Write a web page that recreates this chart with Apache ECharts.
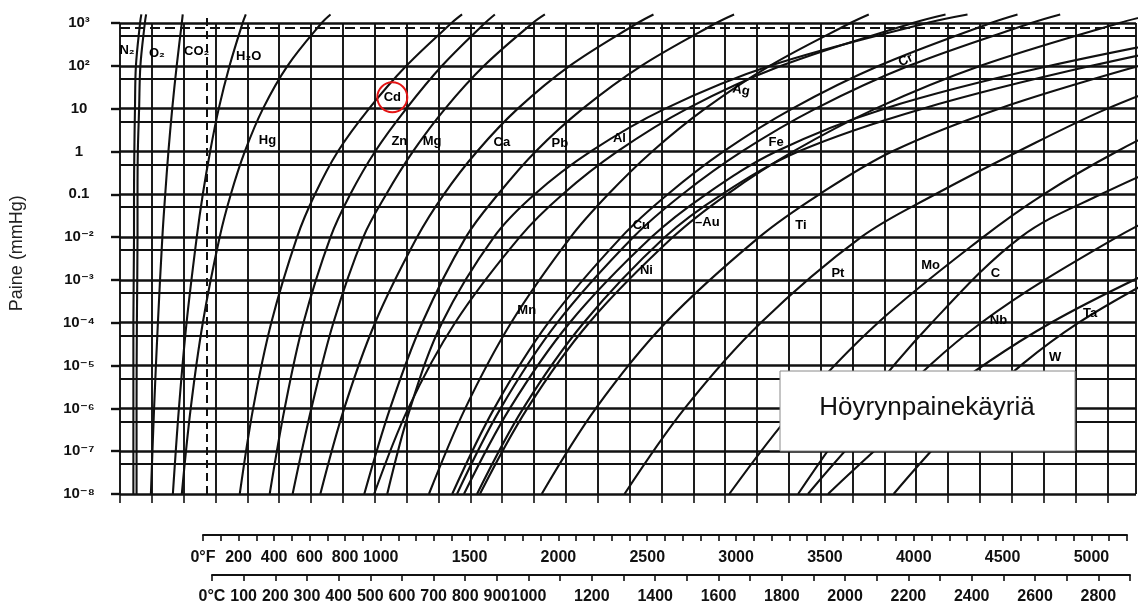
<!DOCTYPE html>
<html><head><meta charset="utf-8">
<script src="https://cdn.jsdelivr.net/npm/echarts/dist/echarts.min.js"></script>
<style>html,body{margin:0;padding:0;background:#fff}#c{width:1141px;height:610px}</style>
</head><body><div id="c"></div>
<script>
// Pressure levels (mmHg) at which the temperature (K) of each curve was read
const pressures = [1e-8, 1e-6, 1e-4, 1e-2, 0.1, 1, 10, 100, 1000, 1585];
// Temperatures in K at the pressures above
const tN2  = [42, 42, 42, 44, 44, 45, 47, 50, 63, 67];
const tO2  = [52, 52, 53, 55, 55, 56, 60, 64, 78, 82];
const tCO2 = [97, 107, 119, 133, 142, 152, 164, 178, 194, 197];
const tH2O = [166, 185, 209, 241, 260, 283, 310, 344, 385, 395];
const tHg  = [194, 222, 260, 313, 348, 392, 449, 526, 633, 661];
const tCd  = [376, 418, 475, 556, 612, 684, 782, 899, 1041, 1074];
const tZn  = [470, 517, 576, 661, 723, 801, 899, 1011, 1146, 1177];
const tMg  = [542, 601, 670, 764, 836, 920, 1021, 1143, 1296, 1334];
const tCa  = [629, 704, 801, 933, 1017, 1121, 1249, 1412, 1625, 1675];
const tPb  = [767, 848, 949, 1086, 1187, 1305, 1453, 1637, 1872, 1928];
const tMn  = [970, 1084, 1228, 1415, 1533, 1671, 1837, 2040, 2293, 2351];
const tAg  = [798, 905, 1052, 1255, 1390, 1562, 1781, 2076, 2489, 2592];
const tAl  = [839, 911, 1011, 1174, 1302, 1478, 1712, 2041, 2533, 2661];
const tCu  = [1043, 1175, 1345, 1574, 1720, 1895, 2111, 2383, 2734, 2818];
const tCr  = [1058, 1195, 1373, 1612, 1766, 1953, 2184, 2477, 2861, 2952];
const tFe  = [1080, 1224, 1412, 1669, 1840, 2060, 2400, 2920, 3600, null];
const tAu  = [1121, 1266, 1456, 1711, 1890, 2130, 2520, 3050, 3700, null];
const tNi  = [1130, 1279, 1473, 1736, 1906, 2114, 2372, 2702, 3138, 3243];
const tTi  = [1324, 1494, 1713, 2007, 2196, 2424, 2760, 3200, 3700, null];
const tPt  = [1584, 1773, 2012, 2327, 2560, 2820, 3100, 3450, null, null];
const tMo  = [1913, 2121, 2380, 2710, 2900, 3130, 3400, null, null, null];
const tC   = [2129, 2320, 2549, 2828, 3080, 3380, null, null, null, null];
const tNb  = [2160, 2402, 2704, 3130, 3400, null, null, null, null, null];
const tTa  = [2223, 2525, 2923, 3470, null, null, null, null, null, null];
const tW   = [2429, 2676, 3010, 3500, null, null, null, null, null, null];

// Curve labels: text, temperature (K), pressure (mmHg), rotation (deg)
const curveLabels = [
  ['N₂', 22, 230, 0], ['O₂', 116, 196, 0], ['CO₂', 241, 218, 0], ['H₂O', 404, 167, 0],
  ['Hg', 463, 1.82, 0], ['Cd', 855, 18.4, 0], ['Zn', 877, 1.72, 0], ['Mg', 980, 1.72, 0],
  ['Ca', 1199, 1.63, 0], ['Pb', 1381, 1.55, 0], ['Al', 1568, 2.02, 0], ['Ag', 1950, 26.8, -10],
  ['Fe', 2060, 1.63, 0], ['Cr', 2467, 135, 25], ['Cu', 1637, 0.0188, 0], ['–Au', 1844, 0.022, 0],
  ['Ti', 2138, 0.0188, 0], ['Ni', 1653, 0.00167, 0], ['Mn', 1277, 1.94e-4, 0], ['Pt', 2254, 1.42e-3, 0],
  ['Mo', 2545, 2.18e-3, 0], ['C', 2749, 1.42e-3, 0], ['Nb', 2758, 1.13e-4, 0], ['Ta', 3046, 1.65e-4, 0],
  ['W', 2936, 1.55e-5, 0]
];

// Axis ticks / labels
const gridTemps = [0,100,200,300,400,500,600,700,800,900,1000,1100,1200,1300,1400,1500,1600,1700,1800,1900,2000,2100,2200,2300,2400,2500,2600,2700,2800,2900,3000,3100];
const decadeP = [1e-8,1e-7,1e-6,1e-5,1e-4,1e-3,1e-2,1e-1,1,10,100,1000];
const decadeLabels = ['10⁻⁸','10⁻⁷','10⁻⁶','10⁻⁵','10⁻⁴','10⁻³','10⁻²','0.1','1','10','10²','10³'];
const halfP = [5e-8,5e-7,5e-6,5e-5,5e-4,5e-3,5e-2,0.5,5,50,500];
const atmP = 760;
const zeroC_K = 273;
const fLabelValues = [0,200,400,600,800,1000,1500,2000,2500,3000,3500,4000,4500,5000];
const cLabelValues = [0,100,200,300,400,500,600,700,800,900,1000,1200,1400,1600,1800,2000,2200,2400,2600,2800];

const curves = [
  ['N2',tN2],['O2',tO2],['CO2',tCO2],['H2O',tH2O],['Hg',tHg],['Cd',tCd],['Zn',tZn],['Mg',tMg],
  ['Ca',tCa],['Pb',tPb],['Mn',tMn],['Ag',tAg],['Al',tAl],['Cu',tCu],['Cr',tCr],['Fe',tFe],
  ['Au',tAu],['Ni',tNi],['Ti',tTi],['Pt',tPt],['Mo',tMo],['C',tC],['Nb',tNb],['Ta',tTa],['W',tW]
];

const X_MIN = 0, X_MAX = 3190, Y_MIN = 1e-8, Y_MAX = 1778.28;
const INK = '#111';
const FONT = 'Liberation Sans, Arial, DejaVu Sans, sans-serif';

const chart = echarts.init(document.getElementById('c'), null, {renderer: 'canvas'});

const vLines = gridTemps.concat([X_MAX]).map(t => [{coord: [t, Y_MIN]}, {coord: [t, 1000]}]);
const hMain = decadeP.map(p => [{coord: [X_MIN, p]}, {coord: [X_MAX, p]}]);
const hHalf = halfP.map(p => [{coord: [X_MIN, p]}, {coord: [X_MAX, p]}]);

function mlSeries(data, style) {
  return {
    type: 'line', xAxisIndex: 0, yAxisIndex: 0, data: [], silent: true, z: 1,
    markLine: { silent: true, symbol: ['none', 'none'], label: {show: false}, animation: false,
      lineStyle: Object.assign({color: INK, width: 2, type: 'solid'}, style), data: data }
  };
}

const series = [
  mlSeries(vLines, {width: 1.9}),
  mlSeries(hMain, {width: 2.5}),
  mlSeries(hHalf, {width: 2.1}),
  mlSeries([[{coord: [X_MIN, atmP]}, {coord: [X_MAX, atmP]}]], {width: 2, type: [10, 5]}),
  mlSeries([[{coord: [zeroC_K, Y_MIN]}, {coord: [zeroC_K, 1400]}]], {width: 2, type: [8, 5]})
];

curves.forEach(([name, temps]) => {
  const data = [];
  temps.forEach((t, i) => { if (t != null) data.push([t, pressures[i]]); });
  series.push({
    type: 'line', name: name, xAxisIndex: 0, yAxisIndex: 0, data: data, silent: true,
    symbol: 'none', smooth: 0.35, z: 3, clip: true,
    lineStyle: {color: INK, width: 2.1}
  });
});

series.push({type: 'line', xAxisIndex: 1, yAxisIndex: 1, data: [], silent: true});
series.push({type: 'line', xAxisIndex: 2, yAxisIndex: 2, data: [], silent: true});

const scaleLabelStyle = {color: INK, fontFamily: FONT, fontWeight: 'bold', fontSize: 16};

chart.setOption({
  animation: false,
  backgroundColor: '#fff',
  grid: [
    {left: 117, right: 5, top: 12.3, bottom: 116},
    {left: 203, right: 14, top: 534, height: 1},
    {left: 212, right: 11, top: 574, height: 1}
  ],
  xAxis: [
    {gridIndex: 0, type: 'value', min: X_MIN, max: X_MAX, axisLine: {show: false},
     axisTick: {show: true, customValues: gridTemps, length: 9, lineStyle: {color: INK, width: 1.6}},
     axisLabel: {show: false}, splitLine: {show: false}},
    {gridIndex: 1, type: 'value', min: 0, max: 5200, interval: 100, position: 'bottom',
     axisLine: {show: true, lineStyle: {color: INK, width: 2}},
     axisTick: {show: true, length: 6, lineStyle: {color: INK, width: 1.6}},
     axisLabel: Object.assign({show: true, interval: 0, margin: 15,
       formatter: v => fLabelValues.includes(v) ? (v === 0 ? '0°F' : String(v)) : ''}, scaleLabelStyle),
     splitLine: {show: false}},
    {gridIndex: 2, type: 'value', min: 0, max: 2900, interval: 100, position: 'bottom',
     axisLine: {show: true, lineStyle: {color: INK, width: 2}},
     axisTick: {show: true, length: 6, lineStyle: {color: INK, width: 1.6}},
     axisLabel: Object.assign({show: true, interval: 0, margin: 14,
       formatter: v => cLabelValues.includes(v) ? (v === 0 ? '0°C' : String(v)) : ''}, scaleLabelStyle),
     splitLine: {show: false}}
  ],
  yAxis: [
    {gridIndex: 0, type: 'log', logBase: 10, min: Y_MIN, max: Y_MAX,
     name: 'Paine (mmHg)', nameLocation: 'middle', nameGap: 94,
     nameTextStyle: {fontSize: 18, fontFamily: FONT, color: '#222'},
     axisLine: {show: false},
     axisTick: {show: true, customValues: decadeP, length: 9, lineStyle: {color: INK, width: 2.4}},
     axisLabel: {show: true, customValues: decadeP, margin: 41, align: 'center',
       color: INK, fontFamily: FONT, fontWeight: 'bold', fontSize: 15,
       formatter: v => decadeLabels[Math.round(Math.log10(v)) + 8]},
     splitLine: {show: false}},
    {gridIndex: 1, type: 'value', min: 0, max: 1, show: false},
    {gridIndex: 2, type: 'value', min: 0, max: 1, show: false}
  ],
  series: series
});

// Curve-name texts, placed through the chart's own coordinate conversion
const labelGraphics = curveLabels.map(l => {
  const p = chart.convertToPixel({gridIndex: 0}, [l[1], l[2]]);
  return {type: 'text', z: 50, x: p[0], y: p[1], rotation: l[3] * Math.PI / 180,
    style: {text: l[0], align: 'center', verticalAlign: 'middle', fill: '#000',
      font: 'bold 13px ' + FONT}};
});
const cdPos = chart.convertToPixel({gridIndex: 0}, [curveLabels[5][1], curveLabels[5][2]]);
chart.setOption({
  graphic: labelGraphics.concat([
    {type: 'circle', z: 100, shape: {cx: cdPos[0], cy: cdPos[1], r: 15},
     style: {fill: 'none', stroke: '#e41414', lineWidth: 2}},
    {type: 'rect', z: 100, shape: {x: 780, y: 371, width: 295, height: 80},
     style: {fill: '#fff', stroke: '#8a8a8a', lineWidth: 1}},
    {type: 'text', z: 101, style: {text: 'Höyrynpainekäyriä', x: 927, y: 408,
      align: 'center', verticalAlign: 'middle', fontSize: 26, fontFamily: FONT, fill: '#111'}}
  ])
});
</script>
</body></html>
